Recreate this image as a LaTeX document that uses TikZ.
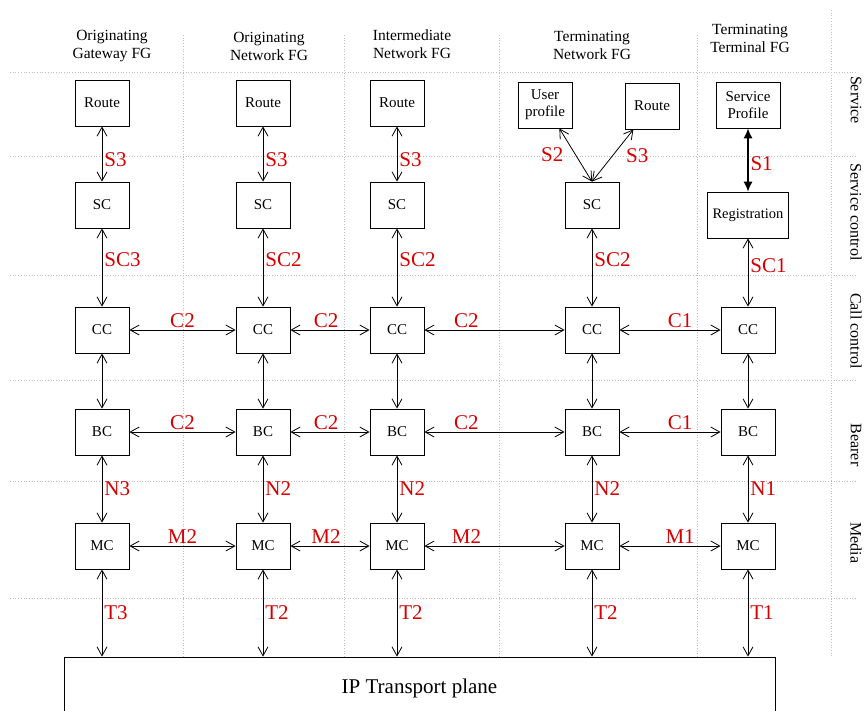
\documentclass[tikz,border=0pt]{standalone}
\usepackage{fontspec}
\setmainfont{Liberation Serif}
\usetikzlibrary{arrows.meta,calc}
\definecolor{lblred}{RGB}{215,0,0}

\begin{document}
\begin{tikzpicture}[x=1pt,y=-1pt,
  blk/.style={draw,line width=.8pt,minimum width=54pt,minimum height=46pt,inner sep=1pt,font=\fontsize{15}{17}\selectfont},
  lnk/.style={{Straight Barb[length=9pt,width=10pt]}-{Straight Barb[length=9pt,width=10pt]},line width=.8pt},
  lbl/.style={text=lblred,inner sep=2pt,font=\fontsize{21}{22}\selectfont},
  guide/.style={gray!50,dotted,line width=.7pt},
  hdr/.style={align=center,font=\fontsize{15.5}{18}\selectfont},
  plane/.style={rotate=-90,font=\fontsize{16}{18}\selectfont}]
\useasboundingbox (0,0) rectangle (864,710);
% grid
\foreach \y in {72,156,275,380,481,598} \draw[guide] (10,\y) -- (857,\y);
\foreach \x in {183,344,499,697} \draw[guide] (\x,35) -- (\x,657);
\draw[guide] (831,10) -- (831,658);
% headings
\node[hdr] (h1) at (112,46) {Originating\\Gateway FG};
\node[hdr] (h2) at (269,46) {Originating\\Network FG};
\node[hdr] (h3) at (412,44) {Intermediate\\Network FG};
\node[hdr] (h4) at (592,45) {Terminating\\Network FG};
\node[hdr] (h5) at (750,38) {Terminating\\Terminal FG};
\node[plane] (p1) at (856,100) {Service};
\node[plane] (p2) at (856,212) {Service control};
\node[plane] (p3) at (856,331) {Call control};
\node[plane] (p4) at (856,445) {Bearer};
\node[plane] (p5) at (856,543) {Media};
% boxes
\foreach \n/\x in {1/102,2/263,3/397}{\node[blk] (rt\n) at (\x,103) {Route};}
\foreach \n/\x in {1/102,2/263,3/397,4/592}{\node[blk] (sc\n) at (\x,205) {SC};}
\foreach \n/\x in {1/102,2/263,3/397,4/592,5/748}{
  \node[blk] (cc\n) at (\x,330) {CC};
  \node[blk] (bc\n) at (\x,432) {BC};
  \node[blk] (mc\n) at (\x,546) {MC};
}
\node[blk,align=center] (up) at (545,105) {User\\profile};
\node[blk] (rt4) at (652,106) {Route};
\node[blk,align=center,minimum width=64pt] (sp) at (748,105) {Service\\Profile};
\node[blk,minimum width=81pt,font=\fontsize{14.5}{17}\selectfont] (reg) at (748,215) {Registration};
\node[draw,line width=.8pt,minimum width=711pt,minimum height=62pt,font=\fontsize{21}{24}\selectfont] (ip) at (419.5,688) {IP Transport plane};
% vertical links
\foreach \n in {1,2,3}{\draw[lnk] (rt\n) -- node[lbl,right,pos=.6]{S3} (sc\n);}
\foreach \n/\a in {1/SC3,2/SC2,3/SC2,4/SC2}{\draw[lnk] (sc\n) -- node[lbl,right,pos=.4]{\a} (cc\n);}
\foreach \n/\b/\c in {1/N3/T3,2/N2/T2,3/N2/T2,4/N2/T2,5/N1/T1}{
  \draw[lnk] (cc\n) -- (bc\n);
  \draw[lnk] (bc\n) -- node[lbl,right]{\b} (mc\n);
  \draw[lnk] (mc\n) -- node[lbl,right]{\c} (mc\n.south |- ip.north);
}
\draw[lnk] (sc4.north) -- node[lbl,left=10pt]{S2} (up);
\draw[lnk] (sc4.north) -- node[lbl,right=11pt]{S3} (rt4);
\draw[{Latex[length=10pt,width=9pt]}-{Latex[length=10pt,width=9pt]},line width=1.1pt] (sp) -- node[lbl,right,pos=.55]{S1} (reg);
\draw[lnk] (reg) -- node[lbl,right,pos=.4]{SC1} (cc5);
% horizontal links
\foreach \a/\b/\p/\c/\m in {1/2/.5/C2/M2,2/3/.45/C2/M2,3/4/.3/C2/M2,4/5/.6/C1/M1}{
  \draw[lnk] (cc\a) -- node[lbl,above,pos=\p]{\c} (cc\b);
  \draw[lnk] (bc\a) -- node[lbl,above,pos=\p]{\c} (bc\b);
  \draw[lnk] (mc\a) -- node[lbl,above,pos=\p]{\m} (mc\b);
}
\end{tikzpicture}
\end{document}
